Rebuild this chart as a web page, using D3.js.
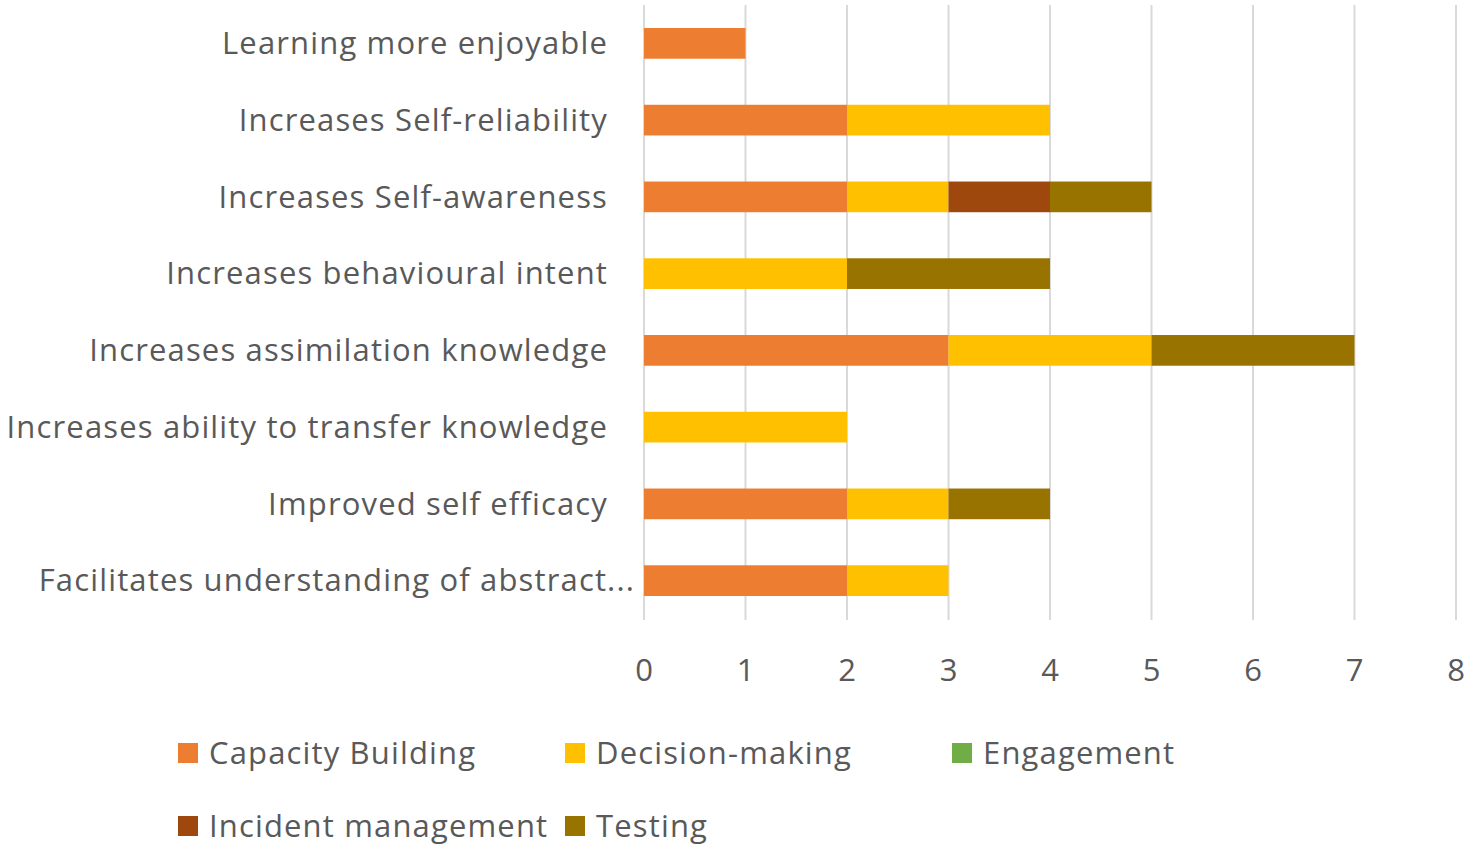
<!DOCTYPE html>
<html>
<head>
<meta charset="utf-8">
<script src="https://cdn.jsdelivr.net/npm/d3@7"></script>
<style>
  body { margin: 0; background: #fff; }
  svg text { font-family: "Open Sans", sans-serif; fill: #595959; }
</style>
</head>
<body>
<svg id="chart"></svg>
<script>
// categories, top to bottom
const categories = [
    "Learning more enjoyable",
    "Increases Self-reliability",
    "Increases Self-awareness",
    "Increases behavioural intent",
    "Increases assimilation knowledge",
    "Increases ability to transfer knowledge",
    "Improved self efficacy",
    "Facilitates understanding of abstract..."
];

const seriesNames = ["Capacity Building", "Decision-making", "Engagement", "Incident management", "Testing"];
const seriesColors = ["#ED7D31", "#FFC000", "#70AD47", "#9E480E", "#997300"];

// values per series, same order as categories
const capacityBuilding   = [1, 2, 2, 0, 3, 0, 2, 2];
const decisionMaking     = [0, 2, 1, 2, 2, 2, 1, 1];
const engagement         = [0, 0, 0, 0, 0, 0, 0, 0];
const incidentManagement = [0, 0, 1, 0, 0, 0, 0, 0];
const testing            = [0, 0, 1, 2, 2, 0, 1, 0];

const xTicks = [0, 1, 2, 3, 4, 5, 6, 7, 8];

const width = 1476, height = 853;

const svg = d3.select("#chart")
    .attr("width", width)
    .attr("height", height);

// build rows for d3.stack
const rows = categories.map((c, i) => ({
    category: c,
    "Capacity Building": capacityBuilding[i],
    "Decision-making": decisionMaking[i],
    "Engagement": engagement[i],
    "Incident management": incidentManagement[i],
    "Testing": testing[i]
}));

const stacked = d3.stack().keys(seriesNames)(rows);

const x = d3.scaleLinear()
    .domain([0, 8])
    .range([644, 1456]);

const y = d3.scaleBand()
    .domain(categories)
    .range([5, 619])
    .paddingInner(0.6)
    .paddingOuter(0.3);

// gridlines
svg.append("g")
    .attr("class", "grid")
    .selectAll("line")
    .data(xTicks)
    .enter().append("line")
    .attr("x1", d => x(d))
    .attr("x2", d => x(d))
    .attr("y1", 5)
    .attr("y2", 620)
    .attr("stroke", "#d9d9d9")
    .attr("stroke-width", 2);

// bars
svg.append("g")
    .attr("class", "bars")
    .selectAll("g")
    .data(stacked)
    .enter().append("g")
    .attr("fill", (d, i) => seriesColors[i])
    .selectAll("rect")
    .data(d => d.filter(s => s[1] - s[0] > 0))
    .enter().append("rect")
    .attr("x", d => x(d[0]))
    .attr("width", d => x(d[1]) - x(d[0]))
    .attr("y", d => y(d.data.category))
    .attr("height", y.bandwidth());

// category labels (last one runs past the others, as in the source)
svg.append("g")
    .attr("class", "labels")
    .selectAll("text")
    .data(categories)
    .enter().append("text")
    .attr("x", (d, i) => i === categories.length - 1 ? 635 : 608)
    .attr("y", d => y(d) + y.bandwidth() / 2)
    .attr("dy", "0.35em")
    .attr("text-anchor", "end")
    .attr("font-size", 31)
    .attr("letter-spacing", "1.15px")
    .text(d => d);

// x tick labels
svg.append("g")
    .attr("class", "ticks")
    .selectAll("text")
    .data(xTicks)
    .enter().append("text")
    .attr("x", d => x(d))
    .attr("y", 670)
    .attr("dy", "0.35em")
    .attr("text-anchor", "middle")
    .attr("font-size", 31)
    .text(d => d);

// legend
const legendPos = [[178, 753], [565, 753], [952, 753], [178, 826], [565, 826]];
const legend = svg.append("g")
    .attr("class", "legend")
    .selectAll("g")
    .data(seriesNames)
    .enter().append("g")
    .attr("transform", (d, i) => `translate(${legendPos[i][0]},${legendPos[i][1]})`);

legend.append("rect")
    .attr("x", 0)
    .attr("y", -10)
    .attr("width", 20)
    .attr("height", 20)
    .attr("fill", (d, i) => seriesColors[i]);

legend.append("text")
    .attr("x", 31)
    .attr("y", 0)
    .attr("dy", "0.35em")
    .attr("font-size", 31)
    .attr("letter-spacing", "1.15px")
    .text(d => d);
</script>
</body>
</html>
